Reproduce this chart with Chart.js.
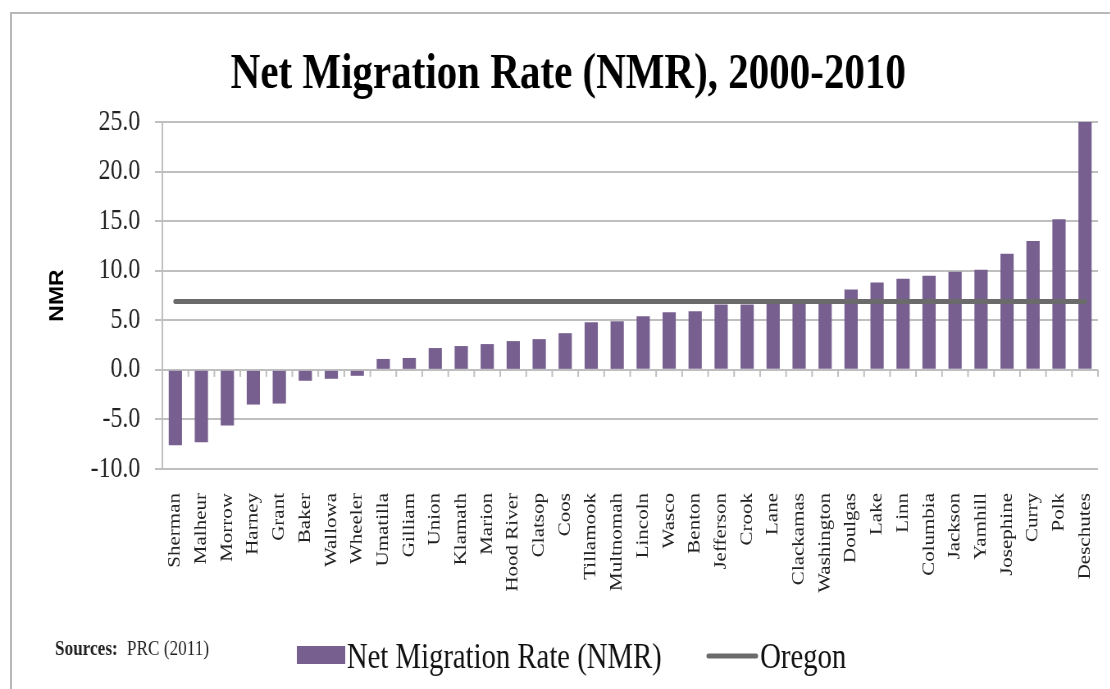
<!DOCTYPE html>
<html>
<head>
<meta charset="utf-8">
<script src="https://cdn.jsdelivr.net/npm/chart.js@4.4.1/dist/chart.umd.min.js"></script>
<style>
  html, body { margin: 0; padding: 0; background: #fff; }
  #wrap { position: relative; width: 1110px; height: 689px; overflow: hidden; }
  #frame {
    position: absolute; left: 10px; top: 12px; width: 1200px; height: 800px;
    border-top: 2px solid #b8b8b8; border-left: 2px solid #b8b8b8;
  }
  /* the chart is laid out wide and then narrowed, like the condensed original */
  #grafico {
    position: absolute; left: 0; top: 0;
    transform: scaleX(0.82); transform-origin: 0 0;
  }
</style>
</head>
<body>
<div id="wrap">
  <div id="frame"></div>
  <canvas id="grafico" width="1354" height="689"></canvas>
</div>
<script>
// contee dell'Oregon, ordinate per tasso
const counties = ["Sherman", "Malheur", "Morrow", "Harney", "Grant", "Baker", "Wallowa",
  "Wheeler", "Umatilla", "Gilliam", "Union", "Klamath", "Marion", "Hood River", "Clatsop",
  "Coos", "Tillamook", "Multnomah", "Lincoln", "Wasco", "Benton", "Jefferson", "Crook",
  "Lane", "Clackamas", "Washington", "Doulgas", "Lake", "Linn", "Columbia", "Jackson",
  "Yamhill", "Josephine", "Curry", "Polk", "Deschutes"];

const nmrValues = [-7.6, -7.3, -5.6, -3.5, -3.4, -1.1, -0.9, -0.6, 1.1, 1.2, 2.2, 2.4,
  2.6, 2.9, 3.1, 3.7, 4.8, 4.9, 5.4, 5.8, 5.9, 6.6, 6.6, 6.7, 6.7, 6.8, 8.1, 8.8, 9.2,
  9.5, 9.9, 10.1, 11.7, 13.0, 15.2, 25.0];

const oregonRate = 6.9;

const yTicks = [-10, -5, 0, 5, 10, 15, 20, 25];

const titolo = "Net Migration Rate (NMR), 2000-2010";
const nomiLegenda = ["Net Migration Rate (NMR)", "Oregon"];
const fonte = ["Sources:", "PRC (2011)"];

const viola = "#77608f";
const grigioLinea = "#6b6b6b";
const grigioGriglia = "#bfbfbf";

// tacche piccole sulla linea dello zero, tra una colonna e l'altra
const tacchePlugin = {
  id: "tacche",
  afterDatasetsDraw(chart) {
    const { ctx, scales } = chart;
    const y0 = scales.y.getPixelForValue(0);
    ctx.save();
    ctx.strokeStyle = grigioGriglia;
    ctx.lineWidth = 2;
    for (let i = 1; i <= counties.length; i++) {
      const x = scales.x.getPixelForValue(i - 0.5);
      ctx.beginPath();
      ctx.moveTo(x, y0);
      ctx.lineTo(x, y0 + 7);
      ctx.stroke();
    }
    ctx.restore();
  },
};

// titolo, legenda e fonte
const testiPlugin = {
  id: "testi",
  afterDraw(chart) {
    const ctx = chart.ctx;
    ctx.save();
    ctx.fillStyle = "#000";
    ctx.textBaseline = "alphabetic";

    ctx.font = "bold 50px 'Liberation Serif'";
    ctx.textAlign = "center";
    ctx.fillText(titolo, 693, 88);

    ctx.textAlign = "left";
    ctx.font = "bold 21px 'Liberation Serif'";
    ctx.fillStyle = "#222";
    ctx.fillText(fonte[0], 67, 655);
    const w = ctx.measureText(fonte[0] + " ").width;
    ctx.font = "21px 'Liberation Serif'";
    ctx.fillText(fonte[1], 67 + w + 6, 655);

    ctx.fillStyle = viola;
    ctx.fillRect(362, 646, 59, 18);
    ctx.fillStyle = "#111";
    ctx.font = "35px 'Liberation Serif'";
    ctx.fillText(nomiLegenda[0], 423, 668);

    ctx.strokeStyle = grigioLinea;
    ctx.lineWidth = 5;
    ctx.lineCap = "round";
    ctx.beginPath();
    ctx.moveTo(864, 656);
    ctx.lineTo(922, 656);
    ctx.stroke();
    ctx.fillText(nomiLegenda[1], 927, 668);
    ctx.restore();
  },
};

const ctx = document.getElementById("grafico").getContext("2d");

const grafico = new Chart(ctx, {
  data: {
    labels: counties,
    datasets: [
      {
        type: "line",
        label: nomiLegenda[1],
        data: counties.map(() => oregonRate),
        borderColor: grigioLinea,
        borderWidth: 5,
        borderCapStyle: "round",
        pointRadius: 0,
        order: 1,
      },
      {
        type: "bar",
        label: nomiLegenda[0],
        data: nmrValues,
        backgroundColor: viola,
        barPercentage: 0.51,
        categoryPercentage: 1,
        order: 2,
      },
    ],
  },
  options: {
    responsive: false,
    devicePixelRatio: 1,
    animation: false,
    layout: { padding: { top: 122, right: 15, left: 0, bottom: 0 } },
    plugins: {
      legend: { display: false },
      title: { display: false },
      tooltip: { enabled: false },
    },
    scales: {
      x: {
        grid: { display: false, drawTicks: false },
        border: { display: false },
        ticks: {
          autoSkip: false,
          minRotation: 90,
          maxRotation: 90,
          padding: 24,
          color: "#222",
          font: { family: "Liberation Serif", size: 21 },
        },
        afterFit(scale) {
          scale.height = 220;
          scale.paddingLeft = 0;
          scale.paddingRight = 0;
        },
      },
      y: {
        min: -10,
        max: 25,
        afterBuildTicks(scale) {
          scale.ticks = yTicks.map((v) => ({ value: v }));
        },
        grid: { color: grigioGriglia, lineWidth: 2, tickLength: 9 },
        border: { color: grigioGriglia, width: 2 },
        ticks: {
          padding: 18,
          color: "#222",
          font: { family: "Liberation Serif", size: 29 },
          callback: (v) => Number(v).toFixed(1),
        },
        title: {
          display: true,
          text: "NMR",
          color: "#000",
          padding: { top: 57, bottom: 0 },
          font: { family: "Liberation Sans", size: 23, weight: "bold" },
        },
        afterFit(scale) {
          scale.width = 198;
          scale.paddingTop = 0;
          scale.paddingBottom = 0;
        },
      },
    },
  },
  plugins: [tacchePlugin, testiPlugin],
});
</script>
</body>
</html>
